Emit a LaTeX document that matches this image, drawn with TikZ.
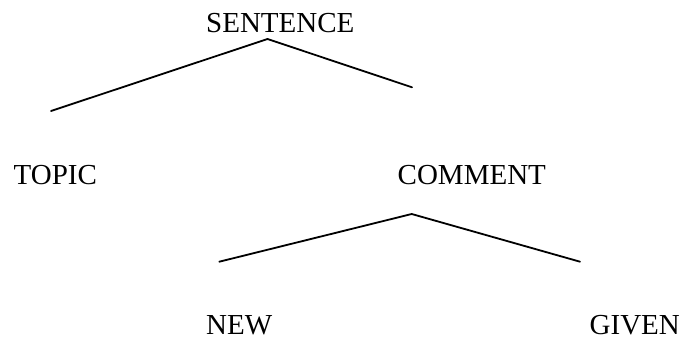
\documentclass[tikz,border=0pt]{standalone}
\usepackage{fontspec}
\setmainfont{Liberation Serif}
\begin{document}
\begin{tikzpicture}[x=1pt,y=-1pt,
  lbl/.style={anchor=base west,inner sep=0pt,font=\fontsize{29}{32}\selectfont},
  branch/.style={line width=1.8pt,line cap=round,line join=miter}]
\useasboundingbox (0,0) rectangle (682,340);
\node[lbl] (sentence) at (206,32.3) {SENTENCE};
\node[lbl] (topic) at (13.5,184.3) {TOPIC};
\node[lbl] (comment) at (397.5,184.3) {COMMENT};
\node[lbl] (new) at (206,334) {NEW};
\node[lbl] (given) at (589.5,334) {GIVEN};
\coordinate (s0) at (267.5,39);
\coordinate (sl) at (51,111);
\coordinate (sr) at (412,87.3);
\coordinate (c0) at (411.7,214);
\coordinate (cl) at (219.3,261.7);
\coordinate (cr) at (580,261.7);
\draw[branch] (sl) -- (s0) -- (sr);
\draw[branch] (cl) -- (c0) -- (cr);
\end{tikzpicture}
\end{document}
